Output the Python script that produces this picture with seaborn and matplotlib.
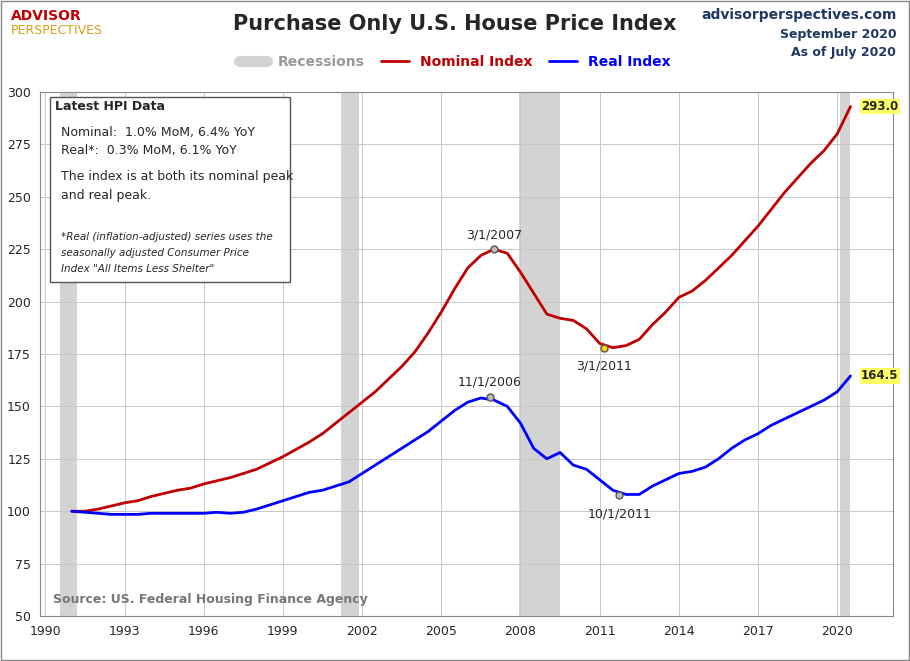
import numpy as np
import matplotlib
matplotlib.use("Agg")
import matplotlib.pyplot as plt
import seaborn as sns
import pandas as pd
from matplotlib.lines import Line2D

# values (year fraction)
years = [1991.0, 1991.5, 1992.0, 1992.5, 1993.0, 1993.5, 1994.0, 1994.5, 1995.0, 1995.5,
         1996.0, 1996.5, 1997.0, 1997.5, 1998.0, 1998.5, 1999.0, 1999.5, 2000.0, 2000.5,
         2001.0, 2001.5, 2002.0, 2002.5, 2003.0, 2003.5, 2004.0, 2004.5, 2005.0, 2005.5,
         2006.0, 2006.5, 2007.0, 2007.5, 2008.0, 2008.5, 2009.0, 2009.5, 2010.0, 2010.5,
         2011.0, 2011.5, 2012.0, 2012.5, 2013.0, 2013.5, 2014.0, 2014.5, 2015.0, 2015.5,
         2016.0, 2016.5, 2017.0, 2017.5, 2018.0, 2018.5, 2019.0, 2019.5, 2020.0, 2020.5]
nominal = [100, 100, 101, 102.5, 104, 105, 107, 108.5, 110, 111,
           113, 114.5, 116, 118, 120, 123, 126, 129.5, 133, 137,
           142, 147, 152, 157, 163, 169, 176, 185, 195, 206,
           216, 222, 225, 223, 214, 204, 194, 192, 191, 187,
           180, 178, 179, 182, 189, 195, 202, 205, 210, 216,
           222, 229, 236, 244, 252, 259, 266, 272, 280, 293]
real = [100, 99.5, 99, 98.5, 98.5, 98.5, 99, 99, 99, 99,
        99, 99.5, 99, 99.5, 101, 103, 105, 107, 109, 110,
        112, 114, 118, 122, 126, 130, 134, 138, 143, 148,
        152, 154, 153, 150, 142, 130, 125, 128, 122, 120,
        115, 110, 108, 108, 112, 115, 118, 119, 121, 125,
        130, 134, 137, 141, 144, 147, 150, 153, 157, 164.5]
recessions = [(1990.55, 1991.2), (2001.2, 2001.9), (2007.95, 2009.5), (2020.1, 2020.5)]

df = pd.DataFrame({"year": years, "Nominal Index": nominal, "Real Index": real})

sns.set_style("white")
fig = plt.figure(figsize=(9.1, 6.61), dpi=100)
ax = fig.add_axes([0.044, 0.068, 0.937, 0.793])

for a, b in recessions:
    ax.axvspan(a, b, color="#d3d3d3", zorder=0, lw=0)
ax.grid(True, color="#c8c8c8", lw=0.7, zorder=0)
sns.lineplot(data=df, x="year", y="Nominal Index", ax=ax, color="#c00000", lw=2, zorder=3)
sns.lineplot(data=df, x="year", y="Real Index", ax=ax, color="#0000ff", lw=2, zorder=3)

ax.set_xlim(1989.8, 2022.1)
ax.set_ylim(50, 300)
ax.set_xticks(range(1990, 2022, 3))
ax.set_yticks(range(50, 301, 25))
ax.tick_params(labelsize=9, length=3)
ax.set_xlabel("")
ax.set_ylabel("")
for s in ax.spines.values():
    s.set_color("#888888")

# peaks / troughs
pts = [(2007.0, 225, "3/1/2007", (0, 8), "#bbbbbb"),
       (2011.17, 178, "3/1/2011", (0, -16), "#ffd700"),
       (2006.83, 154.5, "11/1/2006", (0, 8), "#bbbbbb"),
       (2011.75, 107.5, "10/1/2011", (0, -16), "#bbbbbb")]
for x, y, t, off, c in pts:
    ax.plot(x, y, "o", ms=5, mfc=c, mec="#555555", zorder=4)
    ax.annotate(t, (x, y), xytext=off, textcoords="offset points", ha="center", fontsize=9)

ax.text(2020.9, 293, "293.0", fontsize=8.5, fontweight="bold", va="center",
        bbox=dict(fc="#ffff66", ec="none", pad=1))
ax.text(2020.9, 164.5, "164.5", fontsize=8.5, fontweight="bold", va="center",
        bbox=dict(fc="#ffff66", ec="none", pad=1))

# info box (pixel layout converted to axes fractions)
def fy(py):
    return (616 - py) / 524
def fx(px):
    return (px - 40) / 853
ax.add_patch(plt.Rectangle((fx(50), fy(282)), fx(290) - fx(50), fy(97) - fy(282),
                           transform=ax.transAxes, fc="white", ec="#555555", lw=1, zorder=5))
ax.text(fx(55), fy(107), "Latest HPI Data", transform=ax.transAxes, fontsize=9,
        fontweight="bold", va="center", zorder=6)
for py, t in [(133, "Nominal:  1.0% MoM, 6.4% YoY"), (151, "Real*:  0.3% MoM, 6.1% YoY"),
              (177, "The index is at both its nominal peak"), (196, "and real peak.")]:
    ax.text(fx(61), fy(py), t, transform=ax.transAxes, fontsize=9, va="center", zorder=6)
for py, t in [(237, "*Real (inflation-adjusted) series uses the"),
              (253, "seasonally adjusted Consumer Price"),
              (269, "Index \"All Items Less Shelter\"")]:
    ax.text(fx(61), fy(py), t, transform=ax.transAxes, fontsize=7.5, style="italic",
            va="center", zorder=6)
ax.text(0.015, 0.025, "Source: US. Federal Housing Finance Agency", transform=ax.transAxes,
        fontsize=9, fontweight="bold", color="#777777", zorder=6)

fig.text(0.5, 0.955, "Purchase Only U.S. House Price Index", ha="center", fontsize=15, fontweight="bold")
fig.text(0.985, 0.972, "advisorperspectives.com", ha="right", fontsize=10, fontweight="bold", color="#1f3864")
fig.text(0.985, 0.943, "September 2020", ha="right", fontsize=9, fontweight="bold", color="#1f3864")
fig.text(0.985, 0.916, "As of July 2020", ha="right", fontsize=9, fontweight="bold", color="#1f3864")
fig.text(0.012, 0.97, "ADVISOR", fontsize=10, fontweight="bold", color="#c00000")
fig.text(0.012, 0.948, "PERSPECTIVES", fontsize=9, color="#d4a017")

handles = [Line2D([], [], color="#d3d3d3", lw=8), Line2D([], [], color="#c00000", lw=2),
           Line2D([], [], color="#0000ff", lw=2)]
leg = fig.legend(handles, ["Recessions", "Nominal Index", "Real Index"], loc="center",
                 bbox_to_anchor=(0.5, 0.906), ncol=3, frameon=False, fontsize=10,
                 handlelength=2, columnspacing=1.2)
for t, c in zip(leg.get_texts(), ["#999999", "#c00000", "#0000ff"]):
    t.set_color(c)
    t.set_fontweight("bold")

fig.patches.append(plt.Rectangle((0.001, 0.001), 0.998, 0.998, transform=fig.transFigure,
                                 fill=False, ec="#888888", lw=1))
fig.savefig("out.png", dpi=100)
